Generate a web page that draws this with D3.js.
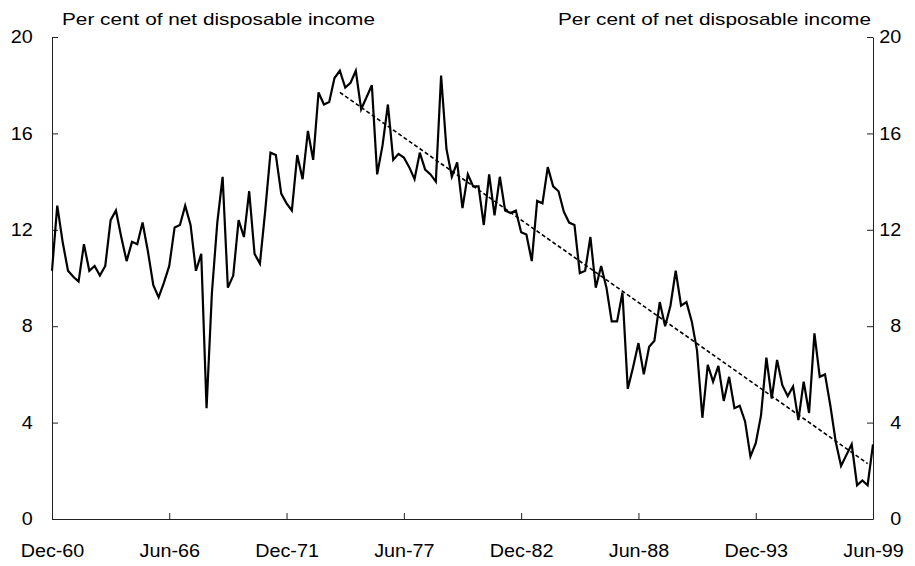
<!DOCTYPE html>
<html>
<head>
<meta charset="utf-8">
<script src="https://cdn.jsdelivr.net/npm/d3@7"></script>
<style>
  body { margin: 0; background: #fff; }
  svg { display: block; }
  text { font-family: "Liberation Sans", Arial, sans-serif; fill: #000; }
</style>
</head>
<body>
<div id="chart"></div>
<script>
// quarterly household saving ratio, Dec-60 to Jun-99
var firstQuarter = "1960-12";
var savingRatio = [
  10.3, 13.0, 11.5, 10.3, 10.05, 9.85, 11.4, 10.3, 10.5, 10.1,
  10.5, 12.4, 12.8, 11.7, 10.7, 11.5, 11.4, 12.3, 11.1, 9.7,
  9.2, 9.8, 10.5, 12.1, 12.2, 13.0, 12.2, 10.3, 11.0, 4.6,
  9.4, 12.3, 14.2, 9.6, 10.1, 12.4, 11.7, 13.6, 11.0, 10.6,
  12.8, 15.2, 15.1, 13.5, 13.1, 12.8, 15.1, 14.1, 16.1, 14.9,
  17.7, 17.2, 17.3, 18.3, 18.6, 17.9, 18.1, 18.6, 17.0, 17.5,
  18.0, 14.3, 15.5, 17.2, 14.9, 15.15, 15.0, 14.6, 14.1, 15.2,
  14.5, 14.3, 14.0, 18.4, 15.35, 14.2, 14.8, 12.9, 14.3, 13.8,
  13.8, 12.2, 14.3, 12.6, 14.2, 12.8, 12.7, 12.8, 11.9, 11.8,
  10.7, 13.2, 13.1, 14.6, 13.8, 13.6, 12.75, 12.3, 12.2, 10.2,
  10.3, 11.7, 9.6, 10.5, 9.6, 8.2, 8.2, 9.4, 5.4, 6.3,
  7.3, 6.0, 7.15, 7.4, 9.0, 8.0, 8.85, 10.3, 8.85, 9.0,
  8.2, 7.0, 4.2, 6.4, 5.7, 6.35, 4.9, 5.9, 4.6, 4.7,
  4.05, 2.6, 3.15, 4.3, 6.7, 5.0, 6.6, 5.55, 5.1, 5.5,
  4.1, 5.7, 4.4, 7.7, 5.9, 6.0, 4.7, 3.2, 2.2, 2.65,
  3.1, 1.4, 1.6, 1.4, 3.1
];

// dashed trend line end points
var trendDates = ["1974-06", "1999-03"];
var trendValues = [17.7, 2.3];

var xTickLabels = ["Dec-60", "Jun-66", "Dec-71", "Jun-77", "Dec-82", "Jun-88", "Dec-93", "Jun-99"];
var yTicks = [0, 4, 8, 12, 16, 20];
var axisTitle = "Per cent of net disposable income";

var width = 915, height = 566;
var margin = {top: 37, right: 42, bottom: 47, left: 52};

var parseMonth = d3.timeParse("%Y-%m");
var parseLabel = d3.timeParse("%b-%y");
var fmtLabel = d3.timeFormat("%b-%y");
var start = parseMonth(firstQuarter);

var data = savingRatio.map(function (v, i) {
  return {date: d3.timeMonth.offset(start, 3 * i), value: v};
});

var tickDates = xTickLabels.map(function (s) {
  var d = parseLabel(s);
  if (d.getFullYear() > 2000) d.setFullYear(d.getFullYear() - 100);
  return d;
});

var svg = d3.select("#chart").append("svg")
  .attr("width", width)
  .attr("height", height);

var x = d3.scaleTime()
  .domain([data[0].date, data[data.length - 1].date])
  .range([margin.left, width - margin.right]);

var y = d3.scaleLinear()
  .domain([0, 20])
  .range([height - margin.bottom, margin.top]);

var stretch = "scale(1.13,1)";

// bottom axis, ticks pointing up
var xAxis = svg.append("g")
  .attr("transform", "translate(0," + y(0) + ")")
  .call(d3.axisBottom(x)
    .tickValues(tickDates)
    .tickFormat(fmtLabel)
    .tickSizeInner(-6)
    .tickSizeOuter(0)
    .tickPadding(26));
xAxis.selectAll("text")
  .style("font-size", "17.5px")
  .attr("transform", stretch);

// left axis
var yLeft = svg.append("g")
  .attr("transform", "translate(" + x.range()[0] + ",0)")
  .call(d3.axisLeft(y)
    .tickValues(yTicks)
    .tickSizeInner(-6)
    .tickSizeOuter(0)
    .tickPadding(17));
yLeft.selectAll("text")
  .style("font-size", "17.5px")
  .attr("transform", stretch);

// right axis
var yRight = svg.append("g")
  .attr("transform", "translate(" + x.range()[1] + ",0)")
  .call(d3.axisRight(y)
    .tickValues(yTicks)
    .tickSizeInner(-6)
    .tickSizeOuter(0)
    .tickPadding(25));
yRight.selectAll("text")
  .style("font-size", "17.5px")
  .style("text-anchor", "end")
  .attr("x", 25)
  .attr("transform", stretch);

svg.selectAll(".domain, .tick line")
  .attr("stroke", "#222")
  .attr("stroke-width", 1);

// axis titles
svg.append("text")
  .attr("x", 62)
  .attr("y", 25)
  .attr("textLength", 313)
  .attr("lengthAdjust", "spacingAndGlyphs")
  .style("font-size", "16.5px")
  .text(axisTitle);

svg.append("text")
  .attr("x", 558)
  .attr("y", 25)
  .attr("textLength", 313)
  .attr("lengthAdjust", "spacingAndGlyphs")
  .style("font-size", "16.5px")
  .text(axisTitle);

// trend line
var trend = trendDates.map(function (d, i) {
  return {date: parseMonth(d), value: trendValues[i]};
});

var line = d3.line()
  .x(function (d) { return x(d.date); })
  .y(function (d) { return y(d.value); });

svg.append("path")
  .datum(trend)
  .attr("fill", "none")
  .attr("stroke", "#000")
  .attr("stroke-width", 1.6)
  .attr("stroke-dasharray", "4,2.5")
  .attr("d", line);

// saving ratio
svg.append("path")
  .datum(data)
  .attr("fill", "none")
  .attr("stroke", "#000")
  .attr("stroke-width", 2.2)
  .attr("stroke-linejoin", "miter")
  .attr("d", line);
</script>
</body>
</html>
